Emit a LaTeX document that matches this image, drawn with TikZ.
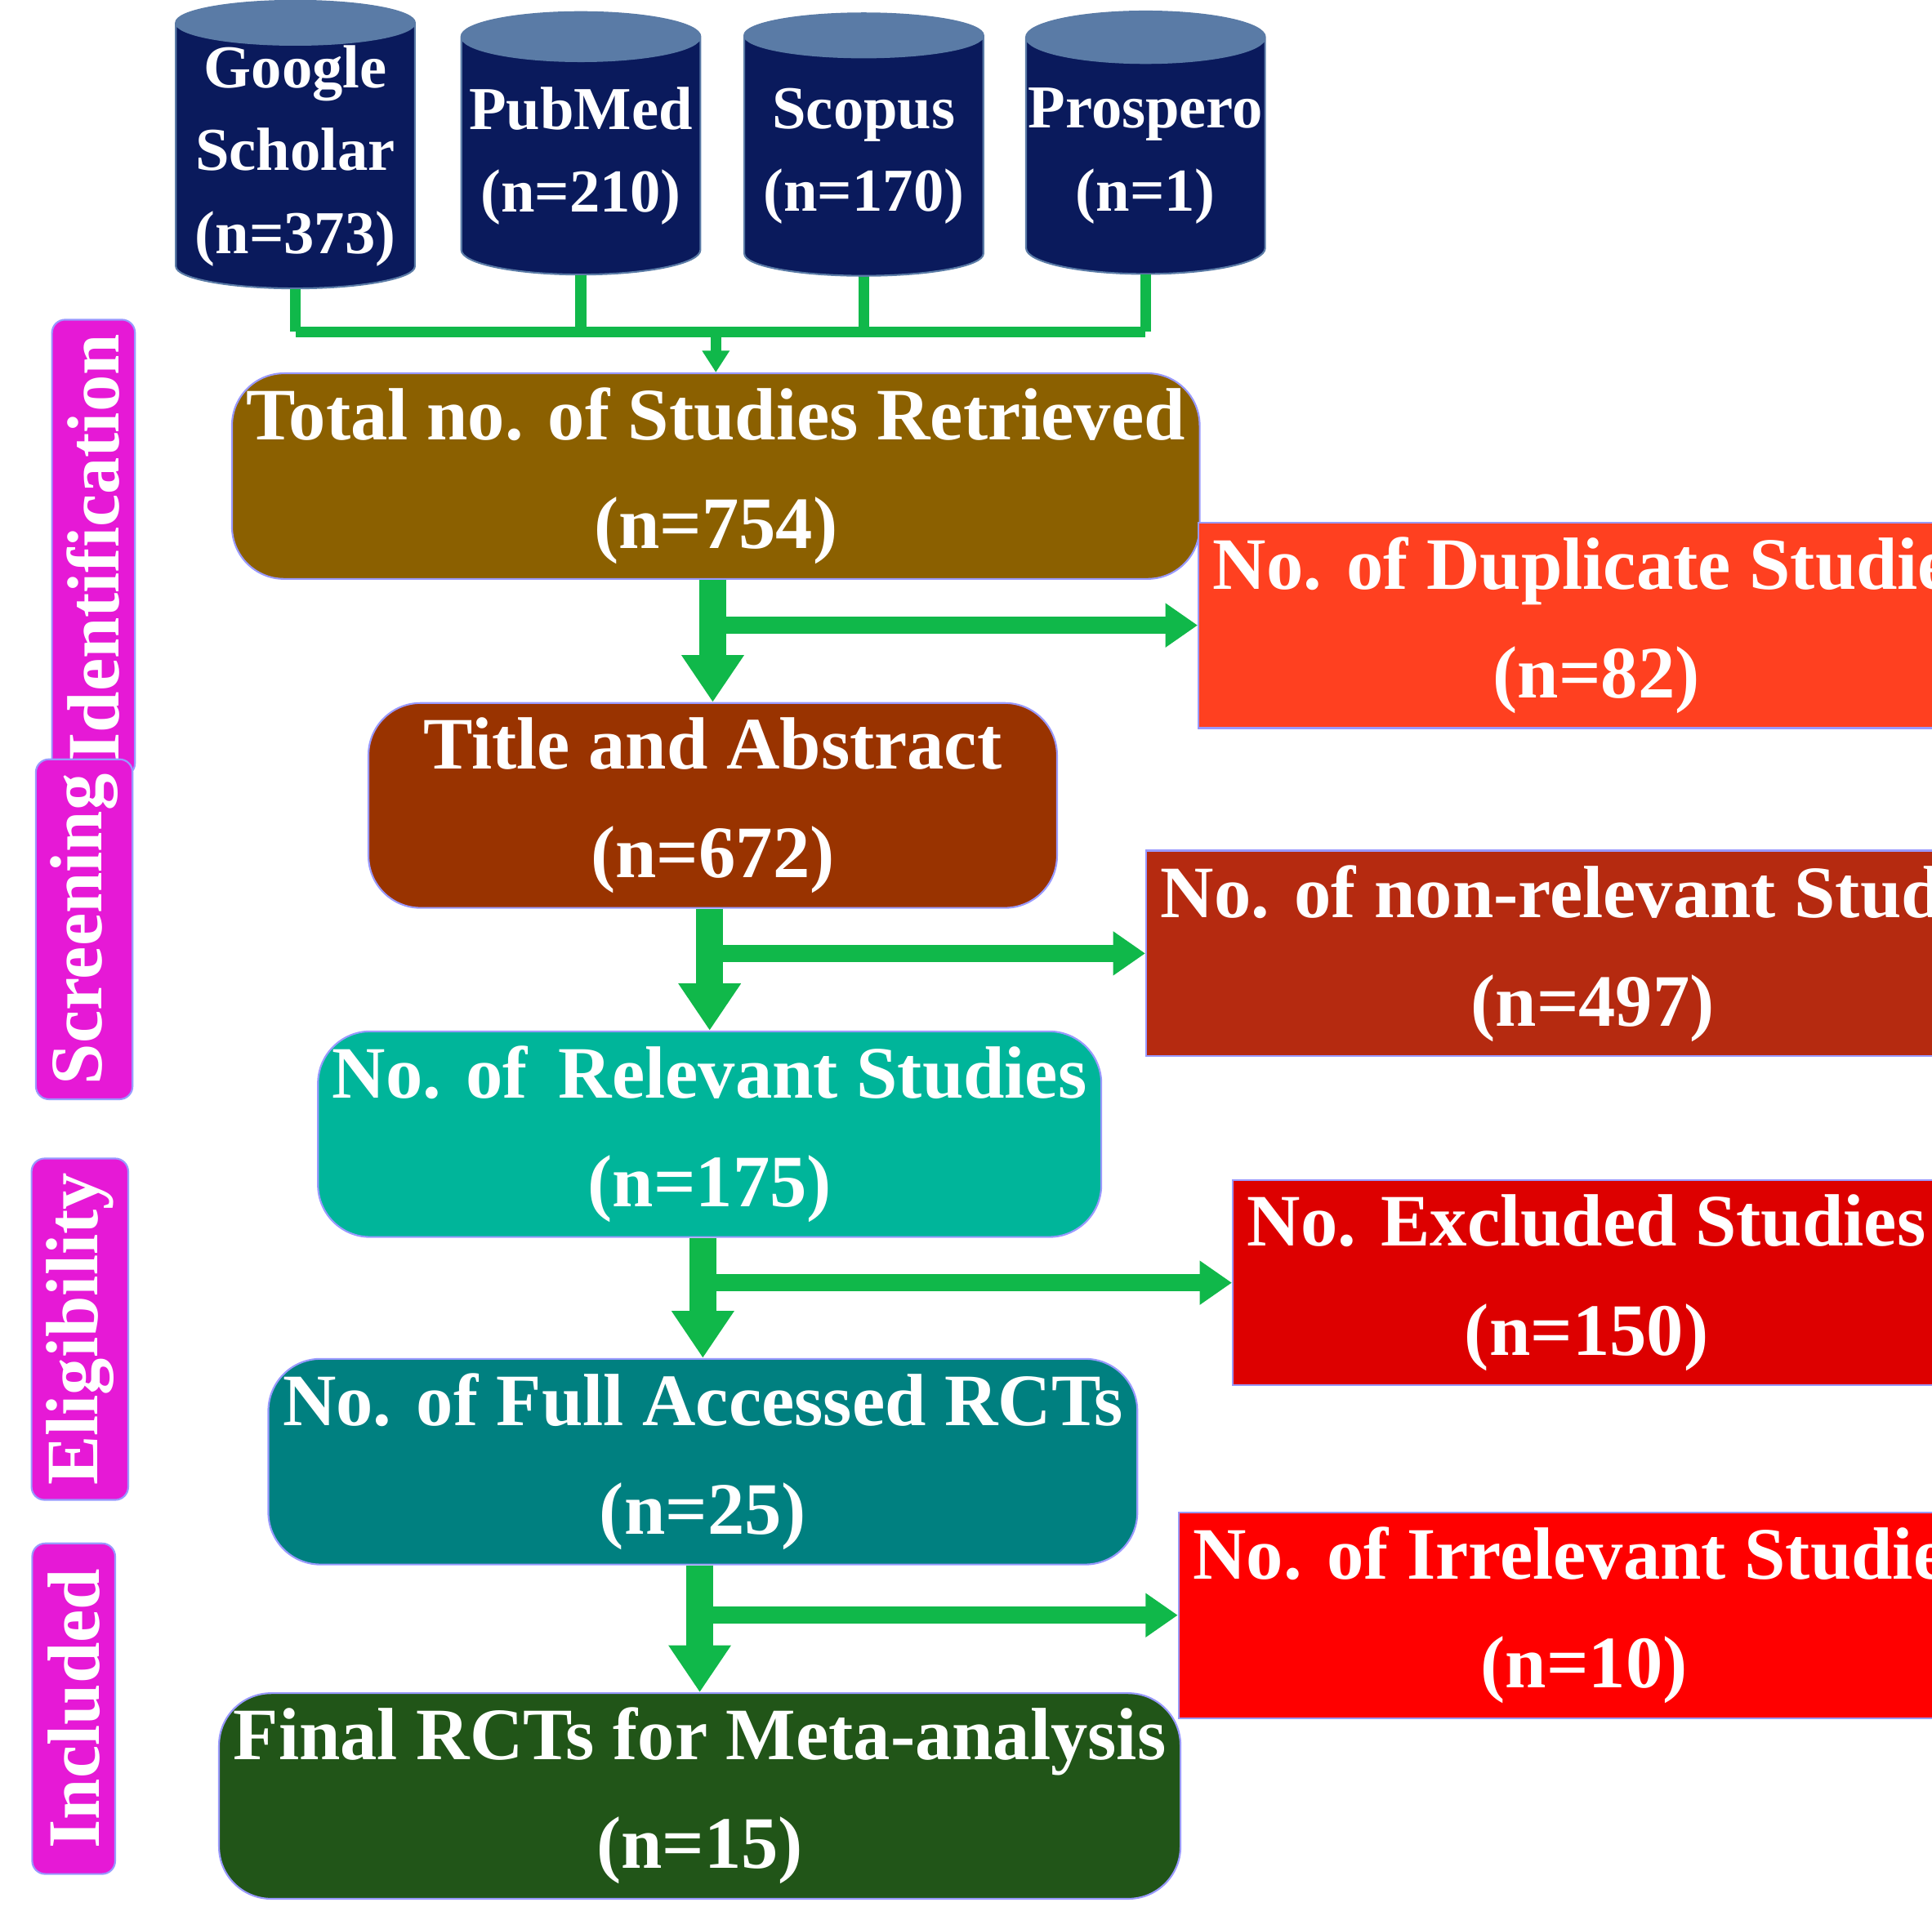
\documentclass[tikz,border=0pt]{standalone}
\usepackage{fontspec}
\setmainfont{Liberation Serif}
\usetikzlibrary{shapes.geometric,arrows.meta,calc}
\definecolor{navy}{HTML}{0A1A5C}
\definecolor{navytop}{HTML}{5A7BA6}
\definecolor{flow}{HTML}{10B84A}
\definecolor{side}{HTML}{E619D6}
\begin{document}
\begin{tikzpicture}[
  db/.style={cylinder,shape border rotate=90,aspect=0.22,draw=navytop,
    cylinder uses custom fill,cylinder body fill=navy,cylinder end fill=navytop,
    minimum width=1.93cm,minimum height=2.12cm,text=white,align=center,
    font=\fontsize{14}{19}\selectfont\bfseries,inner sep=0pt},
  stage/.style={rounded corners=12pt,draw=blue!40,minimum width=5.56cm,minimum height=1.57cm,
    text=white,align=center,font=\fontsize{17}{25}\selectfont\bfseries},
  excl box/.style={draw=blue!40,minimum width=5.22cm,minimum height=1.36cm,
    text=white,align=center,font=\fontsize{17}{25}\selectfont\bfseries},
  phase/.style={rounded corners=3pt,draw=blue!40,fill=side,minimum width=2.67cm,minimum height=0.67cm,
    rotate=90,text=white,font=\fontsize{17}{20}\selectfont\bfseries},
  vflow/.style={flow,line width=0.22cm,-{Triangle[width=0.48cm,length=0.38cm]}},
  hflow/.style={flow,line width=0.14cm,-{Triangle[width=0.34cm,length=0.26cm]}}]
  \useasboundingbox (0,0) rectangle (15.6,-15.4);

  % sources
  \node[db] (gs) at (2.385,-1.26) {Google\\Scholar\\(n=373)};
  \node[db] (pm) at (4.69,-1.26) {PubMed\\(n=210)};
  \node[db] (sc) at (6.975,-1.26) {Scopus\\(n=170)};
  \node[db] (pr) at (9.25,-1.26) {Prospero\\(n=1)};

  % main steps
  \node[stage,fill={rgb,255:red,139;green,96;blue,0}] (tot) at (5.78,-3.845) {Total no. of Studies Retrieved\\(n=754)};
  \node[stage,fill={rgb,255:red,153;green,51;blue,0}] (tab) at (5.755,-6.505) {Title and Abstract\\(n=672)};
  \node[stage,fill={rgb,255:red,0;green,181;blue,154}] (rel) at (5.73,-9.16) {No. of\, Relevant Studies\\(n=175)};
  \node[stage,fill={rgb,255:red,0;green,128;blue,128}] (full) at (5.675,-11.805) {No. of Full Accessed RCTs\\(n=25)};
  \node[stage,fill={rgb,255:red,33;green,85;blue,24}] (fin) at (5.65,-14.505) {Final RCTs for Meta-analysis\\(n=15)};

  % exclusions
  \node[excl box,fill={rgb,255:red,255;green,64;blue,32}] (dup) at (12.89,-5.05) {No. of Duplicate Studies\\(n=82)};
  \node[excl box,fill={rgb,255:red,181;green,42;blue,16}] (nonrel) at (12.86,-7.7) {No. of non-relevant Studies\\(n=497)};
  \node[excl box,fill={rgb,255:red,221;green,0;blue,0}] (exc) at (12.81,-10.36) {No. Excluded Studies\\(n=150)};
  \node[excl box,fill={rgb,255:red,255;green,0;blue,0}] (irr) at (12.79,-13.045) {No. of Irrelevant Studies\\(n=10)};

  % phases
  \node[phase] (idf) at (0.755,-4.425) {Identification};
  \node[phase] (scr) at (0.68,-7.505) {Screening};
  \node[phase] (elg) at (0.645,-10.735) {Eligibility};
  \node[phase] (inc) at (0.595,-13.8) {Included};

  % merge of sources
  \coordinate (join) at (5.78,-2.68);
  \foreach \s in {gs,pm,sc,pr}
    \draw[flow,line width=2.5pt] (\s.south) -- (\s.south |- join);
  \draw[flow,line width=2.5pt] (gs.south |- join) -- (pr.south |- join);
  \draw[flow,line width=2.5pt,-{Triangle[width=6pt,length=5pt]}] (join) -- (tot.north);

  % flow
  \foreach \a/\b/\c in {tot/tab/dup,tab/rel/nonrel,rel/full/exc,full/fin/irr}{
    \draw[vflow] (\a.south -| \b.north) -- (\b.north);
    \draw[hflow] ($(\b.north |- \c.west)+(0.08,0)$) -- (\c.west);
  }
\end{tikzpicture}
\end{document}
